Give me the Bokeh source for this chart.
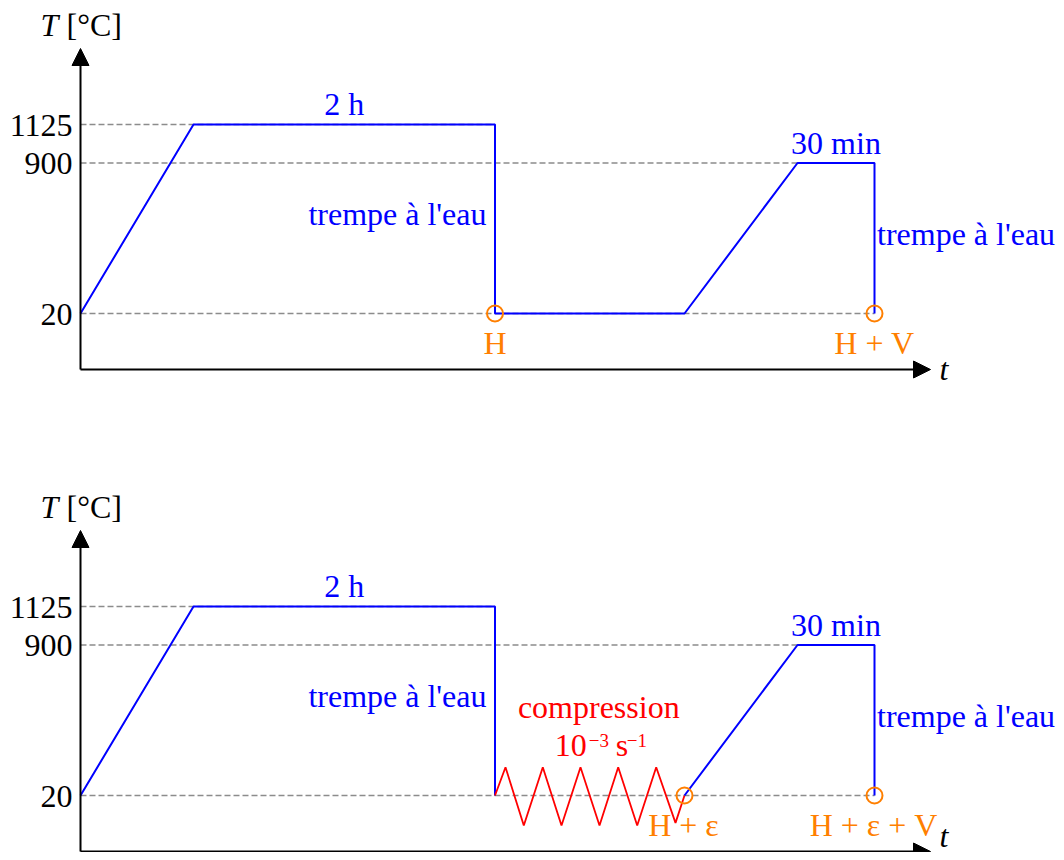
from bokeh.plotting import figure
from bokeh.models import Range1d, Arrow, NormalHead
from bokeh.core.properties import value
from bokeh.embed import file_html
from bokeh.resources import INLINE

# ---------------- data (schematic time units, temperatures in °C) ----------------
T_ticks = [20, 900, 1125]
tick_labels = ["20", "900", "1125"]

# top panel : solution treatment + quench, then ageing + quench
t_top = [0, 11.3, 41.45, 41.45, 60.4, 71.7, 79.4, 79.4]
T_top = [20, 1125, 1125, 20, 20, 900, 900, 20]

# bottom panel : same with a compression (cycling) step in between
t_sol = [0, 11.3, 41.45, 41.45]
T_sol = [20, 1125, 1125, 20]
t_comp = [41.45, 42.5, 44.33, 46.23, 48.1, 50.0, 51.9, 53.77, 55.67, 57.57, 59.5, 60.4]
T_comp = [20, 185, -155, 185, -155, 185, -155, 185, -155, 185, -140, 20]
t_age = [60.4, 71.7, 79.4, 79.4]
T_age = [20, 900, 900, 20]

# states (orange circles)
t_states_top = [41.45, 79.4]
labels_states_top = ["H", "H + V"]
t_states_bot = [60.4, 79.4]
labels_states_bot = ["H + ε", "H + ε + V"]

# ---------------- layout ----------------
W, H = 1056, 852
PX_T = 189 / 1105.0      # px per °C
PX_t = 10.0              # px per time unit
X0 = 80                  # frame x of t = 0
Y20_TOP = 313            # frame y of the 20 °C line (top panel)
Y20_BOT = 795            # frame y of the 20 °C line (bottom panel)
SHIFT = 10.5             # baseline correction for 32px text
SHIFT_S = 6.0            # baseline correction for 18px text

def up(px):
    return px / PX_T

def rt(px):
    return px / PX_t

def base(T, px_above, shift=SHIFT):
    """baseline of a text px_above pixels above temperature T"""
    return T + up(px_above + shift)

FONT = value("Liberation Serif")
FS = "32px"
BLUE = "#0000ff"
ORANGE = "#ff7f00"
RED = "#ff0000"
GRAY = "#8c8c8c"

p = figure(width=W, height=H,
           x_range=Range1d(-X0 / PX_t, (W - X0) / PX_t),
           y_range=Range1d(20 - up(H - Y20_TOP), 20 + up(Y20_TOP)),
           output_backend="svg", toolbar_location=None,
           x_axis_location=None, y_axis_location=None,
           min_border=0, outline_line_color=None,
           background_fill_color="white", border_fill_color="white")
p.extra_y_ranges = {"bot": Range1d(20 - up(H - Y20_BOT), 20 + up(Y20_BOT))}
p.xgrid.visible = False
p.ygrid.visible = False

T_AXIS = 20 - up(56)
T_TIP = 20 + up(265)
t_TIP = rt(850)

for rng in ["default", "bot"]:
    kw = dict(y_range_name=rng)
    t_end_900 = 79.4
    # dashed reference lines
    p.segment(x0=[0, 0, 0], y0=T_ticks, x1=[t_end_900, t_end_900, 41.45], y1=T_ticks,
              line_color=GRAY, line_width=1.6, line_dash="6 3", **kw)
    # axes with arrows
    p.add_layout(Arrow(end=NormalHead(size=17, fill_color="black", line_color="black", line_width=1),
                       x_start=0, y_start=T_AXIS, x_end=0, y_end=T_TIP,
                       line_color="black", line_width=2, **kw))
    p.add_layout(Arrow(end=NormalHead(size=17, fill_color="black", line_color="black", line_width=1),
                       x_start=0, y_start=T_AXIS, x_end=t_TIP, y_end=T_AXIS,
                       line_color="black", line_width=2, **kw))
    # tick labels
    p.text(x=[-rt(8)] * len(T_ticks), y=[base(v, -11.5) for v in T_ticks], text=tick_labels,
           text_font=FONT, text_font_size=FS, text_color="black",
           text_align="right", text_baseline="alphabetic", **kw)
    # axis titles
    p.text(x=[-rt(40)], y=[base(T_TIP, 13)], text=["T"], text_font=FONT, text_font_size=FS,
           text_font_style="italic", text_color="black", text_align="left",
           text_baseline="alphabetic", **kw)
    p.text(x=[-rt(14)], y=[base(T_TIP, 13)], text=["[°C]"], text_font=FONT, text_font_size=FS,
           text_color="black", text_align="left", text_baseline="alphabetic", **kw)
    t_below = -10 if rng == "default" else 5
    p.text(x=[t_TIP + rt(9)], y=[base(T_AXIS, t_below)], text=["t"], text_font=FONT,
           text_font_size=FS, text_font_style="italic", text_color="black", text_align="left",
           text_baseline="alphabetic", **kw)
    # durations
    p.text(x=[(11.3 + 41.45) / 2, (71.7 + 79.4) / 2], y=[base(1125, 10), base(900, 9.5)],
           text=["2 h", "30 min"], text_font=FONT, text_font_size=FS, text_color=BLUE,
           text_align="center", text_baseline="alphabetic", **kw)
    p.text(x=[41.45 - rt(8.5)], y=[base(20, 89)], text=["trempe à l'eau"], text_font=FONT,
           text_font_size=FS, text_color=BLUE, text_align="right", text_baseline="alphabetic", **kw)
    p.text(x=[79.4 + rt(2.5)], y=[base(20, 69)], text=["trempe à l'eau"], text_font=FONT,
           text_font_size=FS, text_color=BLUE, text_align="left", text_baseline="alphabetic", **kw)

# top curve
p.line(t_top, T_top, line_color=BLUE, line_width=2)
p.scatter(t_states_top, [20, 20], marker="circle", size=16, fill_color=None,
          line_color=ORANGE, line_width=2)
p.text(x=t_states_top, y=[base(20, -40)] * 2, text=labels_states_top, text_font=FONT,
       text_font_size=FS, text_color=ORANGE, text_align="center", text_baseline="alphabetic")

# bottom curve
p.line(t_sol, T_sol, line_color=BLUE, line_width=2, y_range_name="bot")
p.line(t_comp, T_comp, line_color=RED, line_width=1.8, y_range_name="bot")
p.line(t_age, T_age, line_color=BLUE, line_width=2, y_range_name="bot")
p.scatter(t_states_bot, [20, 20], marker="circle", size=16, fill_color=None,
          line_color=ORANGE, line_width=2, y_range_name="bot")
p.text(x=[t_states_bot[0] - rt(1), t_states_bot[1] - rt(1)], y=[base(20, -40)] * 2,
       text=labels_states_bot, text_font=FONT, text_font_size=FS, text_color=ORANGE,
       text_align="center", text_baseline="alphabetic", y_range_name="bot")

# compression label
t_c = (t_comp[0] + t_comp[-1]) / 2 + rt(9)
p.text(x=[t_c], y=[base(20, 78)], text=["compression"], text_font=FONT, text_font_size=FS,
       text_color=RED, text_align="center", text_baseline="alphabetic", y_range_name="bot")
p.text(x=[t_c - rt(44), t_c + rt(17)], y=[base(20, 40)] * 2, text=["10", "s"],
       text_font=FONT, text_font_size=FS, text_color=RED, text_align="left",
       text_baseline="alphabetic", y_range_name="bot")
p.text(x=[t_c - rt(10), t_c + rt(28)], y=[base(20, 49, SHIFT_S)] * 2, text=["−3", "−1"],
       text_font=FONT, text_font_size="19px", text_color=RED, text_align="left",
       text_baseline="alphabetic", y_range_name="bot")

open("out.html", "w").write(file_html(p, INLINE))
